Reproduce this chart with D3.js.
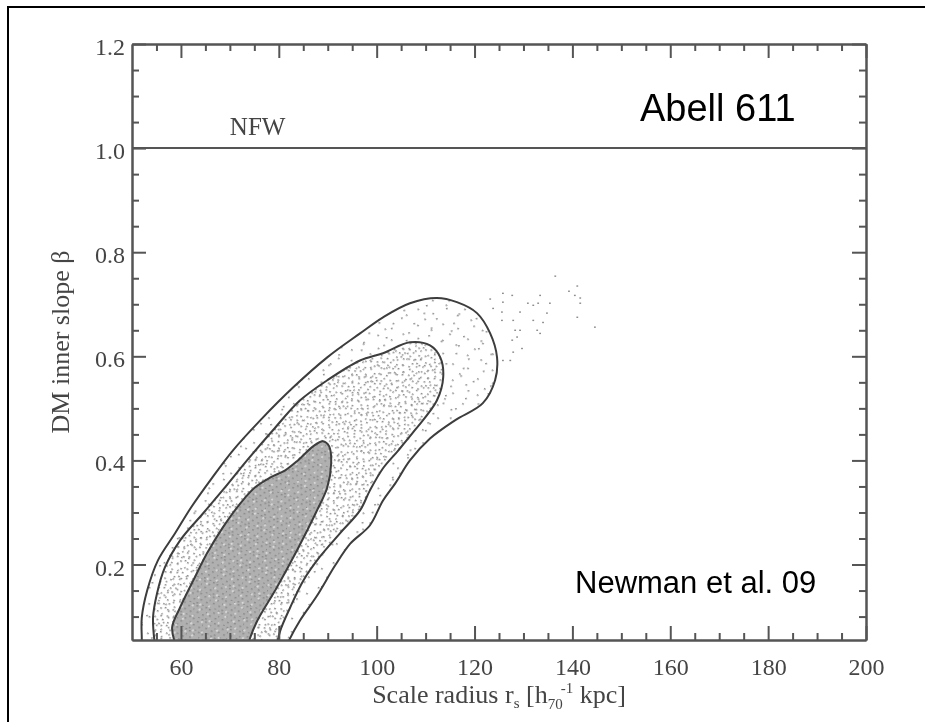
<!DOCTYPE html>
<html>
<head>
<meta charset="utf-8">
<script src="https://cdn.jsdelivr.net/npm/d3@7"></script>
<style>
  body { margin: 0; background: #fff; }
  svg { display: block; }
</style>
</head>
<body>
<div id="chart"></div>
<script>
// contours of the posterior: [r_s (kpc), beta]
var innerContour = [[59.0,0.044],[58.2,0.079],[59.8,0.117],[62.5,0.169],[65.3,0.221],[68.4,0.269],[72.1,0.317],
    [75.1,0.348],[78.2,0.367],[81.3,0.381],[83.9,0.400],[87.0,0.427],[89.0,0.437],[90.3,0.427],[90.7,0.394],
    [89.9,0.348],[87.6,0.300],[83.7,0.227],[79.6,0.156],[75.6,0.092],[74.1,0.058],[73.7,0.044]];
var middleContour = [[54.7,0.044],[54.3,0.098],[55.1,0.144],[56.7,0.194],[59.8,0.246],[64.5,0.298],[69.0,0.348],
    [73.5,0.400],[78.8,0.458],[84.3,0.515],[89.9,0.554],[96.6,0.592],[101.3,0.606],[106.8,0.627],[110.9,0.621],
    [113.0,0.598],[113.6,0.560],[112.3,0.515],[107.8,0.458],[104.4,0.419],[101.3,0.385],[98.6,0.342],[96.6,0.304],
    [92.5,0.260],[88.4,0.215],[85.0,0.169],[82.3,0.117],[80.3,0.073],[79.6,0.044]];
var outerContour = [[52.0,0.044],[52.0,0.058],[52.0,0.098],[53.1,0.150],[55.3,0.208],[58.8,0.260],[62.1,0.310],
    [66.4,0.367],[70.6,0.419],[76.2,0.477],[82.9,0.540],[89.9,0.598],[96.6,0.644],[101.3,0.675],[106.8,0.702],
    [112.3,0.712],[116.4,0.704],[120.5,0.683],[123.2,0.644],[124.6,0.598],[124.2,0.554],[121.7,0.510],[116.0,0.477],
    [110.9,0.442],[106.8,0.400],[103.8,0.356],[101.3,0.323],[98.6,0.275],[94.6,0.240],[91.5,0.198],[87.8,0.140],
    [84.3,0.092],[82.3,0.058],[81.7,0.044]];

// stray samples outside the outer contour
var strayX = [136.5,141.0,139.3,140.5,141.6,141.6,141.0,144.6,133.4,133.0,130.9,132.0,135.4,134.8,134.0,132.0,
    132.8,133.4,129.3,127.9,125.8,127.7,123.2,125.8,125.6,123.8,125.6,128.3,129.3,127.7,129.7,127.9,125.8,127.3,128.7];
var strayY = [0.754,0.735,0.725,0.717,0.712,0.702,0.675,0.656,0.717,0.702,0.702,0.698,0.702,0.683,0.665,0.669,
    0.650,0.644,0.685,0.669,0.721,0.717,0.710,0.704,0.685,0.692,0.669,0.650,0.650,0.631,0.615,0.608,0.592,0.592,0.637];

var xTicks = [60, 80, 100, 120, 140, 160, 180, 200];
var yTicks = [0.2, 0.4, 0.6, 0.8, 1.0, 1.2];
var nfwSlope = 1.0;

var width = 925, height = 722;
var plotLeft = 132, plotRight = 866, plotTop = 44, plotBottom = 640;

var svg = d3.select("#chart").append("svg")
    .attr("width", width)
    .attr("height", height);

// slide frame (runs off the right and bottom)
svg.append("path")
    .attr("d", "M8," + height + "V7H" + width)
    .attr("fill", "none")
    .attr("stroke", "#000")
    .attr("stroke-width", 2);

var x = d3.scaleLinear().domain([50, 200]).range([plotLeft, plotRight]);
var y = d3.scaleLinear().domain([0.055, 1.2]).range([plotBottom, plotTop]);

var defs = svg.append("defs");
defs.append("filter").attr("id", "soft")
    .append("feGaussianBlur").attr("stdDeviation", 0.55);
defs.append("clipPath").attr("id", "plotClip")
    .append("rect")
    .attr("x", plotLeft).attr("y", plotTop)
    .attr("width", plotRight - plotLeft).attr("height", plotBottom - plotTop);

// stipple fills standing in for the sample cloud; two tiles of
// different size and angle are stacked so the dots don't line up
function addPattern(id, size, angle, bg, dots, dotColor, dotSize) {
    var p = defs.append("pattern")
        .attr("id", id)
        .attr("patternUnits", "userSpaceOnUse")
        .attr("width", size).attr("height", size)
        .attr("patternTransform", "rotate(" + angle + ")");
    if (bg) p.append("rect").attr("width", size).attr("height", size).attr("fill", bg);
    p.selectAll("rect.d").data(dots).enter().append("rect")
        .attr("class", "d")
        .attr("x", d => d[0]).attr("y", d => d[1])
        .attr("width", dotSize).attr("height", dotSize * 0.8)
        .attr("fill", dotColor);
}
addPattern("sparseA", 29, 31, null, [[3,5],[17,2],[10,16],[24,20],[6,25]], "#8c8c8c", 1.8);
addPattern("sparseB", 23, -12, null, [[4,3],[15,11],[8,19]], "#8c8c8c", 1.8);
addPattern("mediumA", 17, 23, null, [[1,2],[6,0],[11,3],[15,1],[3,8],[9,7],[14,10],[0,13],[6,14],[12,15]], "#8c8c8c", 1.8);
addPattern("mediumB", 23, -37, null, [[2,1],[9,4],[16,2],[21,7],[5,10],[12,12],[19,14],[1,18],[8,20],[15,19],[20,21]], "#959595", 1.8);
addPattern("denseA", 13, 17, "#b0b0b0", [[1,1],[6,3],[10,0],[3,7],[9,8],[0,11],[6,12],[12,5]], "#8a8a8a", 1.8);
addPattern("denseB", 19, -29, null, [[2,4],[11,2],[16,10],[7,14],[14,17]], "#dadada", 2.2);

var chart = svg.append("g").attr("filter", "url(#soft)");
var plot = chart.append("g").attr("clip-path", "url(#plotClip)");

var line = d3.line()
    .x(d => x(d[0]))
    .y(d => y(d[1]))
    .curve(d3.curveCatmullRom.alpha(0.5));

var levels = [
    { data: outerContour, fills: ["#fff", "url(#sparseA)", "url(#sparseB)"] },
    { data: middleContour, fills: ["#fff", "url(#mediumA)", "url(#mediumB)"] },
    { data: innerContour, fills: ["url(#denseA)", "url(#denseB)"] }
];

levels.forEach(function (lev) {
    plot.selectAll(null).data(lev.fills).enter().append("path")
        .attr("d", line(lev.data))
        .attr("fill", f => f)
        .attr("stroke", "none");
});

plot.selectAll("rect.stray").data(strayX).enter().append("rect")
    .attr("class", "stray")
    .attr("x", (d, i) => x(d) - 0.9)
    .attr("y", (d, i) => y(strayY[i]) - 0.7)
    .attr("width", 1.8).attr("height", 1.4)
    .attr("fill", "#8c8c8c");

plot.selectAll("path.contour").data(levels).enter().append("path")
    .attr("class", "contour")
    .attr("d", d => line(d.data))
    .attr("fill", "none")
    .attr("stroke", "#3c3c3c")
    .attr("stroke-width", 2);

// NFW reference slope
chart.append("line")
    .attr("x1", x(50)).attr("x2", x(200))
    .attr("y1", y(nfwSlope)).attr("y2", y(nfwSlope))
    .attr("stroke", "#555")
    .attr("stroke-width", 2);
chart.append("text")
    .attr("x", x(70)).attr("y", y(nfwSlope) - 13)
    .attr("font-family", "Liberation Serif, serif")
    .attr("font-size", 25)
    .attr("fill", "#444")
    .text("NFW");

// axes: ticks point inward on all four sides
var xMinor = x.ticks(30).filter(v => xTicks.indexOf(v) < 0 && v > 50);
var yMinor = y.ticks(20).filter(v => yTicks.indexOf(+v.toFixed(2)) < 0);

function styleAxis(g) {
    g.selectAll("path.domain").attr("stroke", "#555").attr("stroke-width", 2);
    g.selectAll(".tick line").attr("stroke", "#555").attr("stroke-width", 2);
    g.selectAll("text")
        .attr("font-family", "Liberation Serif, serif")
        .attr("font-size", 24)
        .attr("fill", "#444");
}

chart.append("g").attr("transform", "translate(0," + plotBottom + ")")
    .call(d3.axisBottom(x).tickValues(xTicks).tickSizeInner(-14).tickSizeOuter(0).tickPadding(18))
    .call(styleAxis);
chart.append("g").attr("transform", "translate(0," + plotBottom + ")")
    .call(d3.axisBottom(x).tickValues(xMinor).tickSizeInner(-7).tickSizeOuter(0).tickFormat(""))
    .call(styleAxis);
chart.append("g").attr("transform", "translate(0," + plotTop + ")")
    .call(d3.axisTop(x).tickValues(xTicks).tickSizeInner(-14).tickSizeOuter(0).tickFormat(""))
    .call(styleAxis);
chart.append("g").attr("transform", "translate(0," + plotTop + ")")
    .call(d3.axisTop(x).tickValues(xMinor).tickSizeInner(-7).tickSizeOuter(0).tickFormat(""))
    .call(styleAxis);

var yAxis = chart.append("g").attr("transform", "translate(" + plotLeft + ",0)")
    .call(d3.axisLeft(y).tickValues(yTicks).tickSizeInner(-14).tickSizeOuter(0).tickPadding(7).tickFormat(d3.format(".1f")))
    .call(styleAxis);
yAxis.selectAll("text").attr("dy", "0.44em");
chart.append("g").attr("transform", "translate(" + plotLeft + ",0)")
    .call(d3.axisLeft(y).tickValues(yMinor).tickSizeInner(-7).tickSizeOuter(0).tickFormat(""))
    .call(styleAxis);
chart.append("g").attr("transform", "translate(" + plotRight + ",0)")
    .call(d3.axisRight(y).tickValues(yTicks).tickSizeInner(-14).tickSizeOuter(0).tickFormat(""))
    .call(styleAxis);
chart.append("g").attr("transform", "translate(" + plotRight + ",0)")
    .call(d3.axisRight(y).tickValues(yMinor).tickSizeInner(-7).tickSizeOuter(0).tickFormat(""))
    .call(styleAxis);

// axis titles
chart.append("text")
    .attr("transform", "translate(69," + ((plotTop + plotBottom) / 2) + ") rotate(-90)")
    .attr("text-anchor", "middle")
    .attr("font-family", "Liberation Serif, serif")
    .attr("font-size", 26)
    .attr("fill", "#444")
    .text("DM inner slope β");

var xTitle = chart.append("text")
    .attr("x", (plotLeft + plotRight) / 2).attr("y", 703)
    .attr("text-anchor", "middle")
    .attr("font-family", "Liberation Serif, serif")
    .attr("font-size", 26)
    .attr("fill", "#444");
xTitle.append("tspan").text("Scale radius r");
xTitle.append("tspan").attr("font-size", 15).attr("dy", 5).text("s");
xTitle.append("tspan").attr("dy", -5).text(" [h");
xTitle.append("tspan").attr("font-size", 15).attr("dy", 6).text("70");
xTitle.append("tspan").attr("font-size", 15).attr("dx", -2).attr("dy", -16).text("-1");
xTitle.append("tspan").attr("dy", 10).text(" kpc]");

// slide annotations
svg.append("text")
    .attr("x", 640).attr("y", 121)
    .attr("font-family", "Liberation Sans, Arial, sans-serif")
    .attr("font-size", 38)
    .attr("fill", "#000")
    .text("Abell 611");
svg.append("text")
    .attr("x", 575).attr("y", 593)
    .attr("font-family", "Liberation Sans, Arial, sans-serif")
    .attr("font-size", 31)
    .attr("fill", "#000")
    .text("Newman et al. 09");
</script>
</body>
</html>
